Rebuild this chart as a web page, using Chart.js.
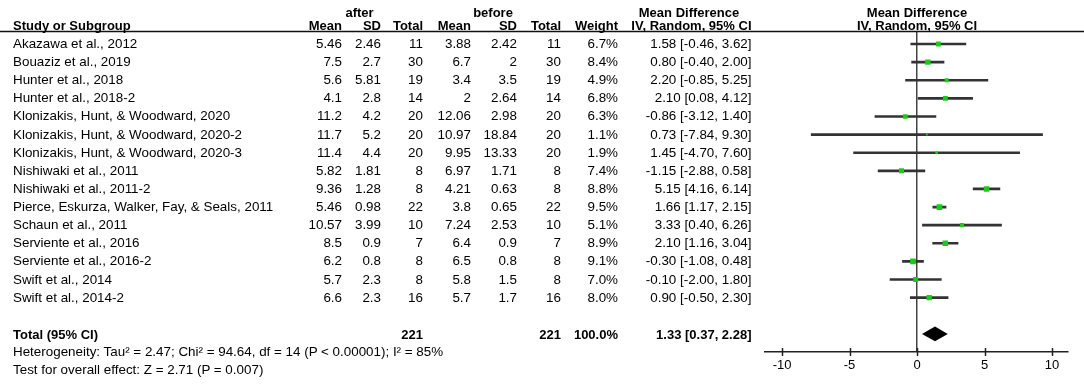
<!DOCTYPE html>
<html>
<head>
<meta charset="utf-8">
<script src="https://cdn.jsdelivr.net/npm/chart.js@4.4.0/dist/chart.umd.min.js"></script>
<style>
  html, body { margin: 0; padding: 0; background: #fff; }
  #wrap { position: relative; width: 1084px; height: 384px; overflow: hidden;
          font-family: Arial, "Liberation Sans", sans-serif; font-size: 13.4px; color: #000; }
  #plot { position: absolute; left: 0; top: 0; }
  .t { position: absolute; white-space: nowrap; line-height: 1; }
  .b { font-weight: bold; font-size: 13px; }
</style>
</head>
<body>
<div id="wrap">
  <canvas id="plot" width="1084" height="384"></canvas>
  <div id="labels"></div>
</div>
<script>
// study data (after vs before)
const studies = [
  'Akazawa et al., 2012',
  'Bouaziz et al., 2019',
  'Hunter et al., 2018',
  'Hunter et al., 2018-2',
  'Klonizakis, Hunt, & Woodward, 2020',
  'Klonizakis, Hunt, & Woodward, 2020-2',
  'Klonizakis, Hunt, & Woodward, 2020-3',
  'Nishiwaki et al., 2011',
  'Nishiwaki et al., 2011-2',
  'Pierce, Eskurza, Walker, Fay, & Seals, 2011',
  'Schaun et al., 2011',
  'Serviente et al., 2016',
  'Serviente et al., 2016-2',
  'Swift et al., 2014',
  'Swift et al., 2014-2'
];
const afterMean = [5.46, 7.5, 5.6, 4.1, 11.2, 11.7, 11.4, 5.82, 9.36, 5.46, 10.57, 8.5, 6.2, 5.7, 6.6];
const afterSD = [2.46, 2.7, 5.81, 2.8, 4.2, 5.2, 4.4, 1.81, 1.28, 0.98, 3.99, 0.9, 0.8, 2.3, 2.3];
const afterN = [11, 30, 19, 14, 20, 20, 20, 8, 8, 22, 10, 7, 8, 8, 16];
const beforeMean = [3.88, 6.7, 3.4, 2, 12.06, 10.97, 9.95, 6.97, 4.21, 3.8, 7.24, 6.4, 6.5, 5.8, 5.7];
const beforeSD = [2.42, 2, 3.5, 2.64, 2.98, 18.84, 13.33, 1.71, 0.63, 0.65, 2.53, 0.9, 0.8, 1.5, 1.7];
const beforeN = [11, 30, 19, 14, 20, 20, 20, 8, 8, 22, 10, 7, 8, 8, 16];
const weights = [6.7, 8.4, 4.9, 6.8, 6.3, 1.1, 1.9, 7.4, 8.8, 9.5, 5.1, 8.9, 9.1, 7.0, 8.0];
const meanDiff = [1.58, 0.80, 2.20, 2.10, -0.86, 0.73, 1.45, -1.15, 5.15, 1.66, 3.33, 2.10, -0.30, -0.10, 0.90];
const ciLow = [-0.46, -0.40, -0.85, 0.08, -3.12, -7.84, -4.70, -2.88, 4.16, 1.17, 0.40, 1.16, -1.08, -2.00, -0.50];
const ciHigh = [3.62, 2.00, 5.25, 4.12, 1.40, 9.30, 7.60, 0.58, 6.14, 2.15, 6.26, 3.04, 0.48, 1.80, 2.30];

// pooled result
const totalAfterN = 221;
const totalBeforeN = 221;
const totalWeight = 100.0;
const totalMD = 1.33;
const totalLow = 0.37;
const totalHigh = 2.28;
const heterogeneity = 'Heterogeneity: Tau\u00b2 = 2.47; Chi\u00b2 = 94.64, df = 14 (P < 0.00001); I\u00b2 = 85%';
const overallTest = 'Test for overall effect: Z = 2.71 (P = 0.007)';

const xTicks = [-10, -5, 0, 5, 10];

// row positions on the y scale
const totalRow = studies.length + 1;
const hetRow = totalRow + 1;
const testRow = totalRow + 2;

const FONT = 'Arial, "Liberation Sans", sans-serif';

const forestPlugin = {
  id: 'forest',
  beforeDatasetsDraw(chart) {
    const ctx = chart.ctx;
    const area = chart.chartArea;
    // header rule across the whole figure
    ctx.save();
    ctx.strokeStyle = '#111';
    ctx.lineWidth = 1.5;
    ctx.beginPath();
    ctx.moveTo(0, area.top);
    ctx.lineTo(chart.width, area.top);
    ctx.stroke();
    ctx.restore();
  },
  afterDatasetsDraw(chart) {
    const ctx = chart.ctx;
    const xs = chart.scales.x;
    const ys = chart.scales.y;
    const bottom = chart.chartArea.bottom;
    ctx.save();
    // tick marks crossing the axis line
    ctx.strokeStyle = '#222';
    ctx.lineWidth = 1.5;
    xTicks.forEach(v => {
      const px = Math.round(xs.getPixelForValue(v)) + 0.5;
      ctx.beginPath();
      ctx.moveTo(px, bottom - 4);
      ctx.lineTo(px, bottom + 4);
      ctx.stroke();
    });
    // pooled diamond
    const yc = ys.getPixelForValue(totalRow);
    const yt = ys.getPixelForValue(totalRow - 0.41);
    const yb = ys.getPixelForValue(totalRow + 0.41);
    ctx.fillStyle = '#000';
    ctx.beginPath();
    ctx.moveTo(xs.getPixelForValue(totalLow), yc);
    ctx.lineTo(xs.getPixelForValue(totalMD), yt);
    ctx.lineTo(xs.getPixelForValue(totalHigh), yc);
    ctx.lineTo(xs.getPixelForValue(totalMD), yb);
    ctx.closePath();
    ctx.fill();
    ctx.restore();
  }
};

const chart = new Chart(document.getElementById('plot'), {
  type: 'scatter',
  data: {
    datasets: [
      {
        type: 'bar',
        indexAxis: 'y',
        order: 2,
        data: studies.map((s, i) => ({ x: [ciLow[i], ciHigh[i]], y: i })),
        backgroundColor: '#333',
        borderWidth: 0,
        barThickness: 2
      },
      {
        type: 'scatter',
        order: 1,
        data: studies.map((s, i) => ({ x: meanDiff[i], y: i })),
        pointStyle: 'rect',
        pointRadius: weights.map(w => 1.85 * Math.sqrt(w) / Math.SQRT2),
        pointBackgroundColor: '#18cc18',
        pointBorderWidth: 0,
        borderWidth: 0
      }
    ]
  },
  options: {
    responsive: false,
    animation: false,
    events: [],
    layout: { padding: { left: 764.5, right: 15.8, top: 31.5, bottom: 0 } },
    plugins: { legend: { display: false }, tooltip: { enabled: false } },
    scales: {
      x: {
        type: 'linear',
        min: -11.3,
        max: 11.2,
        offset: false,
        afterBuildTicks: s => { s.ticks = xTicks.map(v => ({ value: v })); },
        afterFit: s => { s.height = 32; },
        grid: {
          offset: false,
          drawTicks: false,
          lineWidth: 1.5,
          color: c => (c.tick && c.tick.value === 0) ? '#444' : 'rgba(0,0,0,0)'
        },
        border: { display: true, color: '#222', width: 1.5 },
        ticks: { color: '#000', padding: 6, font: { family: FONT, size: 13 } }
      },
      y: {
        type: 'linear', reverse: true, min: -0.69, max: 17,
        offset: false, grid: { offset: false }, display: false
      }
    }
  },
  plugins: [forestPlugin]
});

// table text, placed on the chart's own row positions
const labels = document.getElementById('labels');
const ys = chart.scales.y;
const put = (txt, x, row, align, bold) => {
  const el = document.createElement('div');
  el.className = 't' + (bold ? ' b' : '');
  el.textContent = txt;
  el.style.left = x + 'px';
  el.style.top = ys.getPixelForValue(row) + 'px';
  const tx = align === 'right' ? '-100%' : align === 'center' ? '-50%' : '0';
  el.style.transform = 'translate(' + tx + ', -50%)';
  labels.appendChild(el);
};

const col = { study: 13, mean: 342, sd: 381, n: 423, bmean: 471, bsd: 517, bn: 561, w: 618, md: 751.5 };
const head1 = -1.77, head2 = -1.05;
const plotMid = chart.scales.x.getPixelForValue(0);

put('after', 359.5, head1, 'center', true);
put('before', 493, head1, 'center', true);
put('Mean Difference', 689, head1, 'center', true);
put('Mean Difference', plotMid, head1, 'center', true);
put('Study or Subgroup', col.study, head2, 'left', true);
put('Mean', col.mean, head2, 'right', true);
put('SD', col.sd, head2, 'right', true);
put('Total', col.n, head2, 'right', true);
put('Mean', col.bmean, head2, 'right', true);
put('SD', col.bsd, head2, 'right', true);
put('Total', col.bn, head2, 'right', true);
put('Weight', col.w, head2, 'right', true);
put('IV, Random, 95% CI', col.md, head2, 'right', true);
put('IV, Random, 95% CI', plotMid, head2, 'center', true);

studies.forEach((s, i) => {
  put(s, col.study, i, 'left');
  put(String(afterMean[i]), col.mean, i, 'right');
  put(String(afterSD[i]), col.sd, i, 'right');
  put(String(afterN[i]), col.n, i, 'right');
  put(String(beforeMean[i]), col.bmean, i, 'right');
  put(String(beforeSD[i]), col.bsd, i, 'right');
  put(String(beforeN[i]), col.bn, i, 'right');
  put(weights[i].toFixed(1) + '%', col.w, i, 'right');
  put(meanDiff[i].toFixed(2) + ' [' + ciLow[i].toFixed(2) + ', ' + ciHigh[i].toFixed(2) + ']', col.md, i, 'right');
});

put('Total (95% CI)', col.study, totalRow, 'left', true);
put(String(totalAfterN), col.n, totalRow, 'right', true);
put(String(totalBeforeN), col.bn, totalRow, 'right', true);
put(totalWeight.toFixed(1) + '%', col.w, totalRow, 'right', true);
put(totalMD.toFixed(2) + ' [' + totalLow.toFixed(2) + ', ' + totalHigh.toFixed(2) + ']', col.md, totalRow, 'right', true);
put(heterogeneity, col.study, hetRow, 'left');
put(overallTest, col.study, testRow, 'left');
</script>
</body>
</html>
